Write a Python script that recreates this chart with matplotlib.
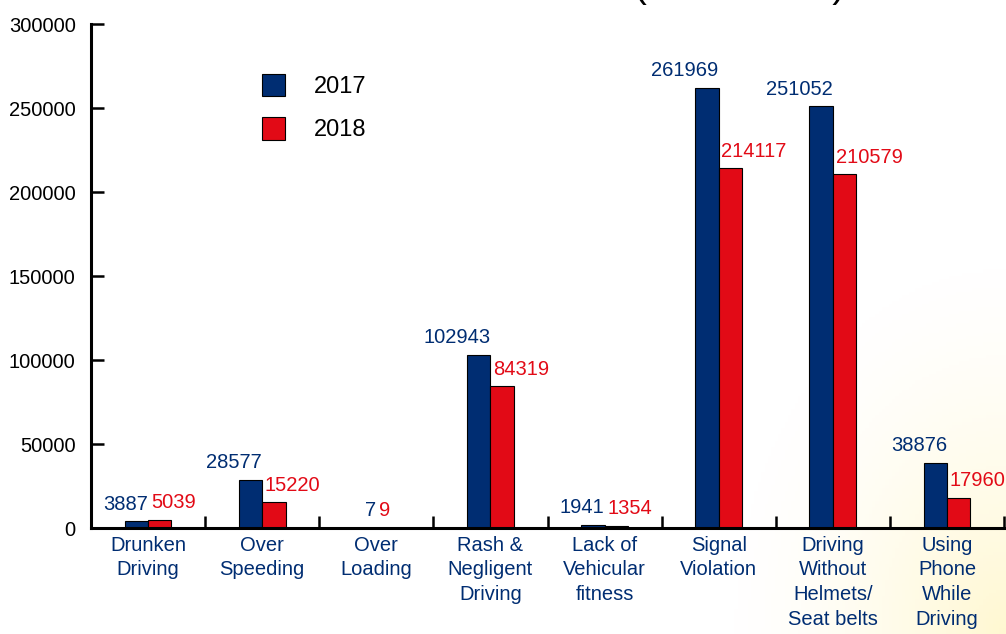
import numpy as np
import matplotlib
matplotlib.use("Agg")
import matplotlib.pyplot as plt
from matplotlib.patches import Patch

plt.rcParams['font.family'] = ['Liberation Sans', 'DejaVu Sans']

categories = ["Drunken\nDriving", "Over\nSpeeding", "Over\nLoading", "Rash &\nNegligent\nDriving",
              "Lack of\nVehicular\nfitness", "Signal\nViolation", "Driving\nWithout\nHelmets/\nSeat belts",
              "Using\nPhone\nWhile\nDriving"]
v2017 = [3887, 28577, 7, 102943, 1941, 261969, 251052, 38876]
v2018 = [5039, 15220, 9, 84319, 1354, 214117, 210579, 17960]
yticks = [0, 50000, 100000, 150000, 200000, 250000, 300000]

blue = '#002D72'
red = '#E20A16'

W, H = 1006, 634
fig = plt.figure(figsize=(W/100, H/100), dpi=100)

# faint yellow glow in bottom-right corner
bg = fig.add_axes([0, 0, 1, 1], zorder=-10)
gx, gy = np.meshgrid(np.linspace(0, 1, 300), np.linspace(0, 1, 200))
dist = np.sqrt(((gx - 1.0) / 0.28) ** 2 + ((gy - 0.0) / 0.6) ** 2)
alpha = np.clip(1 - dist, 0, 1) ** 1.5 * 0.45
img = np.zeros((200, 300, 4))
img[..., 0] = 1.0
img[..., 1] = 0.94
img[..., 2] = 0.6
img[..., 3] = alpha
bg.imshow(img, extent=[0, 1, 0, 1], origin='lower', aspect='auto')
bg.set_xlim(0, 1); bg.set_ylim(0, 1)
bg.axis('off')

ax = fig.add_axes([91/W, 1 - 528/H, 913/W, 504/H])
ax.patch.set_alpha(0)

x = np.arange(len(categories))
bw = 0.205
ax.bar(x - bw/2, v2017, bw, color=blue, edgecolor='black', linewidth=0.8, label='2017')
ax.bar(x + bw/2, v2018, bw, color=red, edgecolor='black', linewidth=0.8, label='2018')

for i in range(len(categories)):
    ax.annotate(str(v2017[i]), (x[i], v2017[i]), xytext=(0, 5.5), textcoords='offset points',
                ha='right', va='bottom', color=blue, fontsize=14.5)
    ax.annotate(str(v2018[i]), (x[i], v2018[i]), xytext=(2, 5.5), textcoords='offset points',
                ha='left', va='bottom', color=red, fontsize=14.5)

ax.set_xlim(-0.5, len(categories) - 0.5)
ax.set_ylim(0, 300000)
ax.set_yticks(yticks)
ax.set_yticklabels([str(t) for t in yticks], fontsize=14.5)
ax.tick_params(axis='y', direction='in', length=9, width=1.8, pad=11, colors='black')

ax.set_xticks(np.arange(len(categories)) + 0.5)
ax.set_xticklabels([])
ax.tick_params(axis='x', direction='in', length=9, width=1.8)
for i, c in enumerate(categories):
    ax.text(x[i], -4500, c, ha='center', va='top', color=blue, fontsize=14.5,
            linespacing=1.38)

for s in ['top', 'right']:
    ax.spines[s].set_visible(False)
for s in ['left', 'bottom']:
    ax.spines[s].set_linewidth(2.2)

handles = [Patch(facecolor=blue, edgecolor='black', linewidth=0.8),
           Patch(facecolor=red, edgecolor='black', linewidth=0.8)]
fig.legend(handles, ['2017', '2018'], loc='upper left', bbox_to_anchor=(250/W, 1 - 62/H),
           frameon=False, fontsize=17, handlelength=1.0, handleheight=1.1,
           handletextpad=1.2, labelspacing=0.8, borderpad=0)

# title cut off at the top edge of the image
fig.text(740/W, 1 + 3/H, "(2017-2018)", ha='center', va='baseline', fontsize=28,
         color='black')

fig.savefig("out.png", dpi=100)
